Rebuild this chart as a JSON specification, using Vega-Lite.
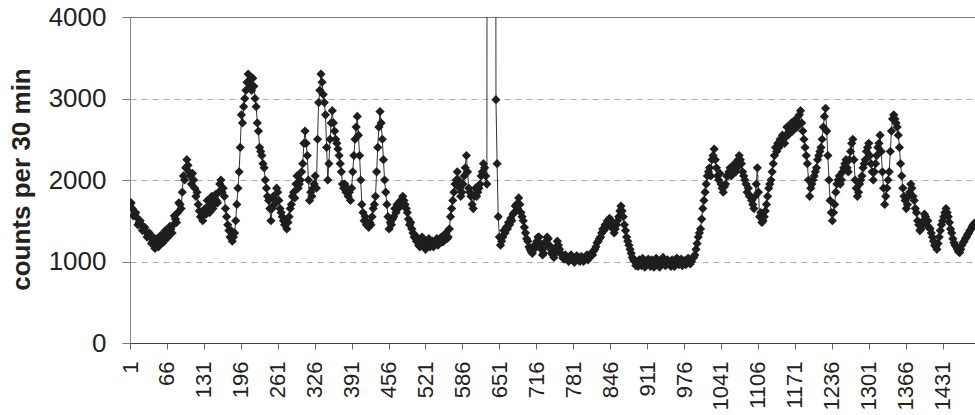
{
  "$schema": "https://vega.github.io/schema/vega-lite/v6.json",
  "width": 845,
  "height": 326,
  "autosize": {"type": "none"},
  "padding": {"left": 130, "top": 17, "right": 0, "bottom": 72},
  "background": "white",
  "config": {"view": {"stroke": null}, "font": "Liberation Sans"},
  "data": {"values": [
{"slot":1,"counts":1700},{"slot":3,"counts":1720},{"slot":5,"counts":1650},{"slot":7,"counts":1560},{"slot":9,"counts":1580},{"slot":11,"counts":1600},{"slot":13,"counts":1540},{"slot":15,"counts":1450},{"slot":17,"counts":1480},{"slot":19,"counts":1500},
{"slot":21,"counts":1450},{"slot":23,"counts":1380},{"slot":25,"counts":1400},{"slot":27,"counts":1420},{"slot":29,"counts":1370},{"slot":31,"counts":1300},{"slot":33,"counts":1330},{"slot":35,"counts":1350},{"slot":37,"counts":1300},{"slot":39,"counts":1220},
{"slot":41,"counts":1250},{"slot":43,"counts":1290},{"slot":45,"counts":1160},{"slot":47,"counts":1230},{"slot":49,"counts":1280},{"slot":51,"counts":1180},{"slot":53,"counts":1220},{"slot":55,"counts":1320},{"slot":57,"counts":1300},{"slot":59,"counts":1230},
{"slot":61,"counts":1270},{"slot":63,"counts":1380},{"slot":65,"counts":1350},{"slot":67,"counts":1290},{"slot":69,"counts":1320},{"slot":71,"counts":1430},{"slot":73,"counts":1400},{"slot":75,"counts":1350},{"slot":77,"counts":1450},{"slot":79,"counts":1560},
{"slot":81,"counts":1520},{"slot":83,"counts":1480},{"slot":85,"counts":1600},{"slot":87,"counts":1720},{"slot":89,"counts":1700},{"slot":91,"counts":1650},{"slot":93,"counts":1850},{"slot":95,"counts":2050},{"slot":97,"counts":2000},{"slot":99,"counts":2150},
{"slot":101,"counts":2250},{"slot":103,"counts":2180},{"slot":105,"counts":2100},{"slot":107,"counts":2050},{"slot":109,"counts":1950},{"slot":111,"counts":2080},{"slot":113,"counts":2000},{"slot":115,"counts":1900},{"slot":117,"counts":1800},{"slot":119,"counts":1850},
{"slot":121,"counts":1700},{"slot":123,"counts":1620},{"slot":125,"counts":1550},{"slot":127,"counts":1600},{"slot":129,"counts":1500},{"slot":131,"counts":1580},{"slot":133,"counts":1650},{"slot":135,"counts":1580},{"slot":137,"counts":1750},{"slot":139,"counts":1680},
{"slot":141,"counts":1600},{"slot":143,"counts":1720},{"slot":145,"counts":1800},{"slot":147,"counts":1650},{"slot":149,"counts":1700},{"slot":151,"counts":1820},{"slot":153,"counts":1750},{"slot":155,"counts":1720},{"slot":157,"counts":1850},{"slot":159,"counts":1950},
{"slot":161,"counts":2000},{"slot":163,"counts":1850},{"slot":165,"counts":1900},{"slot":167,"counts":1800},{"slot":169,"counts":1650},{"slot":171,"counts":1550},{"slot":173,"counts":1450},{"slot":175,"counts":1380},{"slot":177,"counts":1300},{"slot":179,"counts":1380},
{"slot":181,"counts":1250},{"slot":183,"counts":1300},{"slot":185,"counts":1350},{"slot":187,"counts":1500},{"slot":189,"counts":1700},{"slot":191,"counts":1900},{"slot":193,"counts":2100},{"slot":195,"counts":2400},{"slot":197,"counts":2800},{"slot":199,"counts":2700},
{"slot":201,"counts":2900},{"slot":203,"counts":3000},{"slot":205,"counts":3100},{"slot":207,"counts":3200},{"slot":209,"counts":3300},{"slot":211,"counts":3200},{"slot":213,"counts":3150},{"slot":215,"counts":3100},{"slot":217,"counts":3250},{"slot":219,"counts":3150},
{"slot":221,"counts":3000},{"slot":223,"counts":2900},{"slot":225,"counts":2700},{"slot":227,"counts":2600},{"slot":229,"counts":2400},{"slot":231,"counts":2350},{"slot":233,"counts":2300},{"slot":235,"counts":2200},{"slot":237,"counts":2150},{"slot":239,"counts":2000},
{"slot":241,"counts":1900},{"slot":243,"counts":1800},{"slot":245,"counts":1750},{"slot":247,"counts":1650},{"slot":249,"counts":1500},{"slot":251,"counts":1650},{"slot":253,"counts":1800},{"slot":255,"counts":1700},{"slot":257,"counts":1750},{"slot":259,"counts":1900},
{"slot":261,"counts":1850},{"slot":263,"counts":1750},{"slot":265,"counts":1650},{"slot":267,"counts":1600},{"slot":269,"counts":1550},{"slot":271,"counts":1500},{"slot":273,"counts":1450},{"slot":275,"counts":1500},{"slot":277,"counts":1400},{"slot":279,"counts":1480},
{"slot":281,"counts":1550},{"slot":283,"counts":1650},{"slot":285,"counts":1700},{"slot":287,"counts":1800},{"slot":289,"counts":1850},{"slot":291,"counts":1780},{"slot":293,"counts":1950},{"slot":295,"counts":2050},{"slot":297,"counts":1900},{"slot":299,"counts":1950},
{"slot":301,"counts":2000},{"slot":303,"counts":2100},{"slot":305,"counts":2200},{"slot":307,"counts":2450},{"slot":309,"counts":2600},{"slot":311,"counts":2450},{"slot":313,"counts":2300},{"slot":315,"counts":2000},{"slot":317,"counts":1750},{"slot":319,"counts":1850},
{"slot":321,"counts":1800},{"slot":323,"counts":1900},{"slot":325,"counts":1950},{"slot":327,"counts":2050},{"slot":329,"counts":1900},{"slot":331,"counts":2500},{"slot":333,"counts":2950},{"slot":335,"counts":3100},{"slot":337,"counts":3300},{"slot":339,"counts":3200},
{"slot":341,"counts":3050},{"slot":343,"counts":2950},{"slot":345,"counts":2800},{"slot":347,"counts":2400},{"slot":349,"counts":2000},{"slot":351,"counts":2200},{"slot":353,"counts":2500},{"slot":355,"counts":2700},{"slot":357,"counts":2850},{"slot":359,"counts":2700},
{"slot":361,"counts":2600},{"slot":363,"counts":2500},{"slot":365,"counts":2450},{"slot":367,"counts":2380},{"slot":369,"counts":2300},{"slot":371,"counts":2200},{"slot":373,"counts":2100},{"slot":375,"counts":1950},{"slot":377,"counts":1900},{"slot":379,"counts":1950},
{"slot":381,"counts":1850},{"slot":383,"counts":1900},{"slot":385,"counts":1800},{"slot":387,"counts":1850},{"slot":389,"counts":1750},{"slot":391,"counts":1900},{"slot":393,"counts":2100},{"slot":395,"counts":2300},{"slot":397,"counts":2500},{"slot":399,"counts":2650},
{"slot":401,"counts":2780},{"slot":403,"counts":2550},{"slot":405,"counts":2300},{"slot":407,"counts":2000},{"slot":409,"counts":1700},{"slot":411,"counts":1600},{"slot":413,"counts":1500},{"slot":415,"counts":1550},{"slot":417,"counts":1450},{"slot":419,"counts":1480},
{"slot":421,"counts":1420},{"slot":423,"counts":1480},{"slot":425,"counts":1450},{"slot":427,"counts":1550},{"slot":429,"counts":1650},{"slot":431,"counts":1700},{"slot":433,"counts":1800},{"slot":435,"counts":2100},{"slot":437,"counts":2400},{"slot":439,"counts":2650},
{"slot":441,"counts":2840},{"slot":443,"counts":2700},{"slot":445,"counts":2500},{"slot":447,"counts":2250},{"slot":449,"counts":2000},{"slot":451,"counts":1850},{"slot":453,"counts":1700},{"slot":455,"counts":1550},{"slot":457,"counts":1400},{"slot":459,"counts":1480},
{"slot":461,"counts":1450},{"slot":463,"counts":1520},{"slot":465,"counts":1550},{"slot":467,"counts":1650},{"slot":469,"counts":1600},{"slot":471,"counts":1700},{"slot":473,"counts":1650},{"slot":475,"counts":1720},{"slot":477,"counts":1750},{"slot":479,"counts":1700},
{"slot":481,"counts":1800},{"slot":483,"counts":1750},{"slot":485,"counts":1700},{"slot":487,"counts":1650},{"slot":489,"counts":1600},{"slot":491,"counts":1520},{"slot":493,"counts":1450},{"slot":495,"counts":1480},{"slot":497,"counts":1400},{"slot":499,"counts":1350},
{"slot":501,"counts":1300},{"slot":503,"counts":1320},{"slot":505,"counts":1250},{"slot":507,"counts":1280},{"slot":509,"counts":1200},{"slot":511,"counts":1180},{"slot":513,"counts":1250},{"slot":515,"counts":1300},{"slot":517,"counts":1200},{"slot":519,"counts":1240},
{"slot":521,"counts":1150},{"slot":523,"counts":1200},{"slot":525,"counts":1230},{"slot":527,"counts":1280},{"slot":529,"counts":1180},{"slot":531,"counts":1220},{"slot":533,"counts":1250},{"slot":535,"counts":1180},{"slot":537,"counts":1200},{"slot":539,"counts":1260},
{"slot":541,"counts":1280},{"slot":543,"counts":1200},{"slot":545,"counts":1220},{"slot":547,"counts":1280},{"slot":549,"counts":1300},{"slot":551,"counts":1240},{"slot":553,"counts":1250},{"slot":555,"counts":1320},{"slot":557,"counts":1350},{"slot":559,"counts":1280},
{"slot":561,"counts":1300},{"slot":563,"counts":1400},{"slot":565,"counts":1550},{"slot":567,"counts":1650},{"slot":569,"counts":1750},{"slot":571,"counts":1850},{"slot":573,"counts":1950},{"slot":575,"counts":2000},{"slot":577,"counts":2100},{"slot":579,"counts":2000},
{"slot":581,"counts":1900},{"slot":583,"counts":1800},{"slot":585,"counts":1850},{"slot":587,"counts":1950},{"slot":589,"counts":2050},{"slot":591,"counts":2150},{"slot":593,"counts":2300},{"slot":595,"counts":2100},{"slot":597,"counts":1900},{"slot":599,"counts":1850},
{"slot":601,"counts":1800},{"slot":603,"counts":1700},{"slot":605,"counts":1650},{"slot":607,"counts":1800},{"slot":609,"counts":1900},{"slot":611,"counts":1800},{"slot":613,"counts":1850},{"slot":615,"counts":1900},{"slot":617,"counts":1950},{"slot":619,"counts":2050},
{"slot":621,"counts":2100},{"slot":623,"counts":2200},{"slot":625,"counts":2150},{"slot":627,"counts":2050},{"slot":629,"counts":1950},{"slot":631,"counts":20000},{"slot":633,"counts":20000},{"slot":635,"counts":20000},{"slot":637,"counts":20000},{"slot":639,"counts":20000},
{"slot":641,"counts":20000},{"slot":643,"counts":20000},{"slot":645,"counts":2985},{"slot":647,"counts":2200},{"slot":649,"counts":1550},{"slot":651,"counts":1300},{"slot":653,"counts":1200},{"slot":655,"counts":1250},{"slot":657,"counts":1300},{"slot":659,"counts":1380},
{"slot":661,"counts":1350},{"slot":663,"counts":1420},{"slot":665,"counts":1400},{"slot":667,"counts":1480},{"slot":669,"counts":1450},{"slot":671,"counts":1530},{"slot":673,"counts":1500},{"slot":675,"counts":1580},{"slot":677,"counts":1600},{"slot":679,"counts":1680},
{"slot":681,"counts":1700},{"slot":683,"counts":1650},{"slot":685,"counts":1780},{"slot":687,"counts":1700},{"slot":689,"counts":1600},{"slot":691,"counts":1550},{"slot":693,"counts":1500},{"slot":695,"counts":1420},{"slot":697,"counts":1350},{"slot":699,"counts":1280},
{"slot":701,"counts":1250},{"slot":703,"counts":1180},{"slot":705,"counts":1150},{"slot":707,"counts":1120},{"slot":709,"counts":1100},{"slot":711,"counts":1150},{"slot":713,"counts":1200},{"slot":715,"counts":1170},{"slot":717,"counts":1250},{"slot":719,"counts":1300},
{"slot":721,"counts":1300},{"slot":723,"counts":1220},{"slot":725,"counts":1150},{"slot":727,"counts":1080},{"slot":729,"counts":1100},{"slot":731,"counts":1180},{"slot":733,"counts":1250},{"slot":735,"counts":1300},{"slot":737,"counts":1280},{"slot":739,"counts":1200},
{"slot":741,"counts":1150},{"slot":743,"counts":1100},{"slot":745,"counts":1080},{"slot":747,"counts":1050},{"slot":749,"counts":1100},{"slot":751,"counts":1180},{"slot":753,"counts":1250},{"slot":755,"counts":1200},{"slot":757,"counts":1150},{"slot":759,"counts":1100},
{"slot":761,"counts":1080},{"slot":763,"counts":1040},{"slot":765,"counts":1030},{"slot":767,"counts":1080},{"slot":769,"counts":1060},{"slot":771,"counts":1020},{"slot":773,"counts":1000},{"slot":775,"counts":1050},{"slot":777,"counts":1080},{"slot":779,"counts":1030},
{"slot":781,"counts":1050},{"slot":783,"counts":990},{"slot":785,"counts":1020},{"slot":787,"counts":1070},{"slot":789,"counts":1060},{"slot":791,"counts":1010},{"slot":793,"counts":1000},{"slot":795,"counts":1060},{"slot":797,"counts":1050},{"slot":799,"counts":1000},
{"slot":801,"counts":1030},{"slot":803,"counts":1060},{"slot":805,"counts":1080},{"slot":807,"counts":1020},{"slot":809,"counts":1050},{"slot":811,"counts":1090},{"slot":813,"counts":1100},{"slot":815,"counts":1080},{"slot":817,"counts":1130},{"slot":819,"counts":1150},
{"slot":821,"counts":1180},{"slot":823,"counts":1230},{"slot":825,"counts":1250},{"slot":827,"counts":1280},{"slot":829,"counts":1300},{"slot":831,"counts":1350},{"slot":833,"counts":1400},{"slot":835,"counts":1380},{"slot":837,"counts":1450},{"slot":839,"counts":1420},
{"slot":841,"counts":1500},{"slot":843,"counts":1470},{"slot":845,"counts":1530},{"slot":847,"counts":1500},{"slot":849,"counts":1450},{"slot":851,"counts":1400},{"slot":853,"counts":1350},{"slot":855,"counts":1400},{"slot":857,"counts":1450},{"slot":859,"counts":1500},
{"slot":861,"counts":1550},{"slot":863,"counts":1620},{"slot":865,"counts":1680},{"slot":867,"counts":1620},{"slot":869,"counts":1550},{"slot":871,"counts":1450},{"slot":873,"counts":1380},{"slot":875,"counts":1300},{"slot":877,"counts":1250},{"slot":879,"counts":1200},
{"slot":881,"counts":1150},{"slot":883,"counts":1100},{"slot":885,"counts":1050},{"slot":887,"counts":1020},{"slot":889,"counts":1000},{"slot":891,"counts":950},{"slot":893,"counts":980},{"slot":895,"counts":940},{"slot":897,"counts":1020},{"slot":899,"counts":980},
{"slot":901,"counts":950},{"slot":903,"counts":1040},{"slot":905,"counts":1000},{"slot":907,"counts":930},{"slot":909,"counts":970},{"slot":911,"counts":1010},{"slot":913,"counts":1030},{"slot":915,"counts":970},{"slot":917,"counts":940},{"slot":919,"counts":1020},
{"slot":921,"counts":990},{"slot":923,"counts":930},{"slot":925,"counts":960},{"slot":927,"counts":1040},{"slot":929,"counts":1010},{"slot":931,"counts":950},{"slot":933,"counts":930},{"slot":935,"counts":1000},{"slot":937,"counts":980},{"slot":939,"counts":1050},
{"slot":941,"counts":1020},{"slot":943,"counts":950},{"slot":945,"counts":960},{"slot":947,"counts":1020},{"slot":949,"counts":990},{"slot":951,"counts":960},{"slot":953,"counts":940},{"slot":955,"counts":1020},{"slot":957,"counts":1000},{"slot":959,"counts":940},
{"slot":961,"counts":970},{"slot":963,"counts":1040},{"slot":965,"counts":1030},{"slot":967,"counts":960},{"slot":969,"counts":980},{"slot":971,"counts":1030},{"slot":973,"counts":950},{"slot":975,"counts":990},{"slot":977,"counts":1010},{"slot":979,"counts":960},
{"slot":981,"counts":990},{"slot":983,"counts":1040},{"slot":985,"counts":1030},{"slot":987,"counts":970},{"slot":989,"counts":1000},{"slot":991,"counts":1040},{"slot":993,"counts":1050},{"slot":995,"counts":1080},{"slot":997,"counts":1150},{"slot":999,"counts":1220},
{"slot":1001,"counts":1300},{"slot":1003,"counts":1350},{"slot":1005,"counts":1400},{"slot":1007,"counts":1520},{"slot":1009,"counts":1650},{"slot":1011,"counts":1750},{"slot":1013,"counts":1850},{"slot":1015,"counts":1950},{"slot":1017,"counts":2050},{"slot":1019,"counts":2100},
{"slot":1021,"counts":2150},{"slot":1023,"counts":2050},{"slot":1025,"counts":2250},{"slot":1027,"counts":2300},{"slot":1029,"counts":2380},{"slot":1031,"counts":2250},{"slot":1033,"counts":2150},{"slot":1035,"counts":2050},{"slot":1037,"counts":2000},{"slot":1039,"counts":2080},
{"slot":1041,"counts":1950},{"slot":1043,"counts":1900},{"slot":1045,"counts":1850},{"slot":1047,"counts":1920},{"slot":1049,"counts":1950},{"slot":1051,"counts":2050},{"slot":1053,"counts":2050},{"slot":1055,"counts":2100},{"slot":1057,"counts":2150},{"slot":1059,"counts":2050},
{"slot":1061,"counts":2100},{"slot":1063,"counts":2150},{"slot":1065,"counts":2200},{"slot":1067,"counts":2100},{"slot":1069,"counts":2150},{"slot":1071,"counts":2250},{"slot":1073,"counts":2300},{"slot":1075,"counts":2250},{"slot":1077,"counts":2200},{"slot":1079,"counts":2100},
{"slot":1081,"counts":2050},{"slot":1083,"counts":2000},{"slot":1085,"counts":1950},{"slot":1087,"counts":1850},{"slot":1089,"counts":1900},{"slot":1091,"counts":1800},{"slot":1093,"counts":1800},{"slot":1095,"counts":1750},{"slot":1097,"counts":1700},{"slot":1099,"counts":1650},
{"slot":1101,"counts":1800},{"slot":1103,"counts":1950},{"slot":1105,"counts":2150},{"slot":1107,"counts":1850},{"slot":1109,"counts":1550},{"slot":1111,"counts":1600},{"slot":1113,"counts":1480},{"slot":1115,"counts":1500},{"slot":1117,"counts":1550},{"slot":1119,"counts":1620},
{"slot":1121,"counts":1700},{"slot":1123,"counts":1800},{"slot":1125,"counts":1900},{"slot":1127,"counts":1950},{"slot":1129,"counts":2000},{"slot":1131,"counts":2100},{"slot":1133,"counts":2200},{"slot":1135,"counts":2300},{"slot":1137,"counts":2400},{"slot":1139,"counts":2350},
{"slot":1141,"counts":2450},{"slot":1143,"counts":2400},{"slot":1145,"counts":2500},{"slot":1147,"counts":2450},{"slot":1149,"counts":2550},{"slot":1151,"counts":2500},{"slot":1153,"counts":2450},{"slot":1155,"counts":2550},{"slot":1157,"counts":2650},{"slot":1159,"counts":2550},
{"slot":1161,"counts":2600},{"slot":1163,"counts":2650},{"slot":1165,"counts":2700},{"slot":1167,"counts":2600},{"slot":1169,"counts":2650},{"slot":1171,"counts":2720},{"slot":1173,"counts":2750},{"slot":1175,"counts":2650},{"slot":1177,"counts":2700},{"slot":1179,"counts":2800},
{"slot":1181,"counts":2850},{"slot":1183,"counts":2700},{"slot":1185,"counts":2600},{"slot":1187,"counts":2500},{"slot":1189,"counts":2400},{"slot":1191,"counts":2300},{"slot":1193,"counts":2200},{"slot":1195,"counts":2000},{"slot":1197,"counts":1800},{"slot":1199,"counts":1900},
{"slot":1201,"counts":1950},{"slot":1203,"counts":2000},{"slot":1205,"counts":2050},{"slot":1207,"counts":2100},{"slot":1209,"counts":2150},{"slot":1211,"counts":2250},{"slot":1213,"counts":2300},{"slot":1215,"counts":2350},{"slot":1217,"counts":2400},{"slot":1219,"counts":2500},
{"slot":1221,"counts":2650},{"slot":1223,"counts":2780},{"slot":1225,"counts":2880},{"slot":1227,"counts":2600},{"slot":1229,"counts":2300},{"slot":1231,"counts":2000},{"slot":1233,"counts":1750},{"slot":1235,"counts":1600},{"slot":1237,"counts":1500},{"slot":1239,"counts":1600},
{"slot":1241,"counts":1700},{"slot":1243,"counts":1850},{"slot":1245,"counts":1950},{"slot":1247,"counts":2000},{"slot":1249,"counts":2050},{"slot":1251,"counts":1950},{"slot":1253,"counts":2000},{"slot":1255,"counts":2100},{"slot":1257,"counts":2150},{"slot":1259,"counts":2200},
{"slot":1261,"counts":2250},{"slot":1263,"counts":2150},{"slot":1265,"counts":2100},{"slot":1267,"counts":2250},{"slot":1269,"counts":2350},{"slot":1271,"counts":2450},{"slot":1273,"counts":2500},{"slot":1275,"counts":2250},{"slot":1277,"counts":2000},{"slot":1279,"counts":1900},
{"slot":1281,"counts":1800},{"slot":1283,"counts":1850},{"slot":1285,"counts":1950},{"slot":1287,"counts":2000},{"slot":1289,"counts":2050},{"slot":1291,"counts":2150},{"slot":1293,"counts":2200},{"slot":1295,"counts":2250},{"slot":1297,"counts":2350},{"slot":1299,"counts":2400},
{"slot":1301,"counts":2450},{"slot":1303,"counts":2300},{"slot":1305,"counts":2200},{"slot":1307,"counts":2100},{"slot":1309,"counts":2000},{"slot":1311,"counts":2100},{"slot":1313,"counts":2200},{"slot":1315,"counts":2300},{"slot":1317,"counts":2400},{"slot":1319,"counts":2450},
{"slot":1321,"counts":2550},{"slot":1323,"counts":2350},{"slot":1325,"counts":2100},{"slot":1327,"counts":1900},{"slot":1329,"counts":1700},{"slot":1331,"counts":1800},{"slot":1333,"counts":1900},{"slot":1335,"counts":2000},{"slot":1337,"counts":2100},{"slot":1339,"counts":2350},
{"slot":1341,"counts":2600},{"slot":1343,"counts":2750},{"slot":1345,"counts":2800},{"slot":1347,"counts":2750},{"slot":1349,"counts":2700},{"slot":1351,"counts":2650},{"slot":1353,"counts":2550},{"slot":1355,"counts":2400},{"slot":1357,"counts":2200},{"slot":1359,"counts":2050},
{"slot":1361,"counts":1900},{"slot":1363,"counts":1800},{"slot":1365,"counts":1750},{"slot":1367,"counts":1650},{"slot":1369,"counts":1700},{"slot":1371,"counts":1800},{"slot":1373,"counts":1850},{"slot":1375,"counts":1950},{"slot":1377,"counts":1900},{"slot":1379,"counts":1800},
{"slot":1381,"counts":1750},{"slot":1383,"counts":1650},{"slot":1385,"counts":1600},{"slot":1387,"counts":1500},{"slot":1389,"counts":1450},{"slot":1391,"counts":1380},{"slot":1393,"counts":1400},{"slot":1395,"counts":1450},{"slot":1397,"counts":1500},{"slot":1399,"counts":1580},
{"slot":1401,"counts":1550},{"slot":1403,"counts":1450},{"slot":1405,"counts":1500},{"slot":1407,"counts":1420},{"slot":1409,"counts":1400},{"slot":1411,"counts":1350},{"slot":1413,"counts":1300},{"slot":1415,"counts":1250},{"slot":1417,"counts":1200},{"slot":1419,"counts":1180},
{"slot":1421,"counts":1150},{"slot":1423,"counts":1220},{"slot":1425,"counts":1300},{"slot":1427,"counts":1380},{"slot":1429,"counts":1450},{"slot":1431,"counts":1500},{"slot":1433,"counts":1550},{"slot":1435,"counts":1600},{"slot":1437,"counts":1650},{"slot":1439,"counts":1600},
{"slot":1441,"counts":1550},{"slot":1443,"counts":1480},{"slot":1445,"counts":1400},{"slot":1447,"counts":1350},{"slot":1449,"counts":1280},{"slot":1451,"counts":1230},{"slot":1453,"counts":1200},{"slot":1455,"counts":1180},{"slot":1457,"counts":1150},{"slot":1459,"counts":1120},
{"slot":1461,"counts":1110},{"slot":1463,"counts":1150},{"slot":1465,"counts":1200},{"slot":1467,"counts":1230},{"slot":1469,"counts":1250},{"slot":1471,"counts":1280},{"slot":1473,"counts":1300},{"slot":1475,"counts":1330},{"slot":1477,"counts":1350},{"slot":1479,"counts":1380},
{"slot":1481,"counts":1400},{"slot":1483,"counts":1430},{"slot":1485,"counts":1450},{"slot":1487,"counts":1470}
  ]},
  "encoding": {
    "x": {
      "field": "slot", "type": "quantitative",
      "scale": {"domain": [1, 1488], "nice": false, "zero": false},
      "axis": {
        "values": [1,66,131,196,261,326,391,456,521,586,651,716,781,846,911,976,1041,1106,1171,1236,1301,1366,1431],
        "title": null, "grid": false, "labelAngle": -90, "labelFontSize": 22, "labelColor": "#222",
        "labelPadding": 12, "tickSize": 6, "tickColor": "#666", "domainColor": "#444", "labelFlush": false, "labelOverlap": false,
        "format": "d"
      }
    },
    "y": {
      "field": "counts", "type": "quantitative",
      "scale": {"domain": [0, 4000], "nice": false},
      "axis": {
        "values": [0,1000,2000,3000,4000], "format": "d",
        "title": "counts per 30 min", "titleFontSize": 26, "titleFontWeight": "bold", "titleColor": "#222",
        "titleX": -101, "titleY": 162, "titleBaseline": "alphabetic", "titleAngle": -90, "titleAlign": "center",
        "labelFontSize": 26, "labelColor": "#222", "labelPadding": 16, "tickSize": 8, "tickColor": "#777",
        "domainColor": "#888",
        "grid": true,
        "gridColor": {"condition": {"test": "datum.value === 4000", "value": "#777"}, "value": "#aaa"},
        "gridDash": {"condition": {"test": "datum.value === 4000", "value": []}, "value": [6, 5]},
        "gridWidth": 1
      }
    }
  },
  "layer": [
    {"mark": {"type": "line", "clip": true, "color": "#333", "strokeWidth": 1}},
    {"mark": {"type": "point", "clip": true, "shape": "diamond", "filled": true, "size": 85, "color": "#1e1e1e", "opacity": 1}}
  ]
}
